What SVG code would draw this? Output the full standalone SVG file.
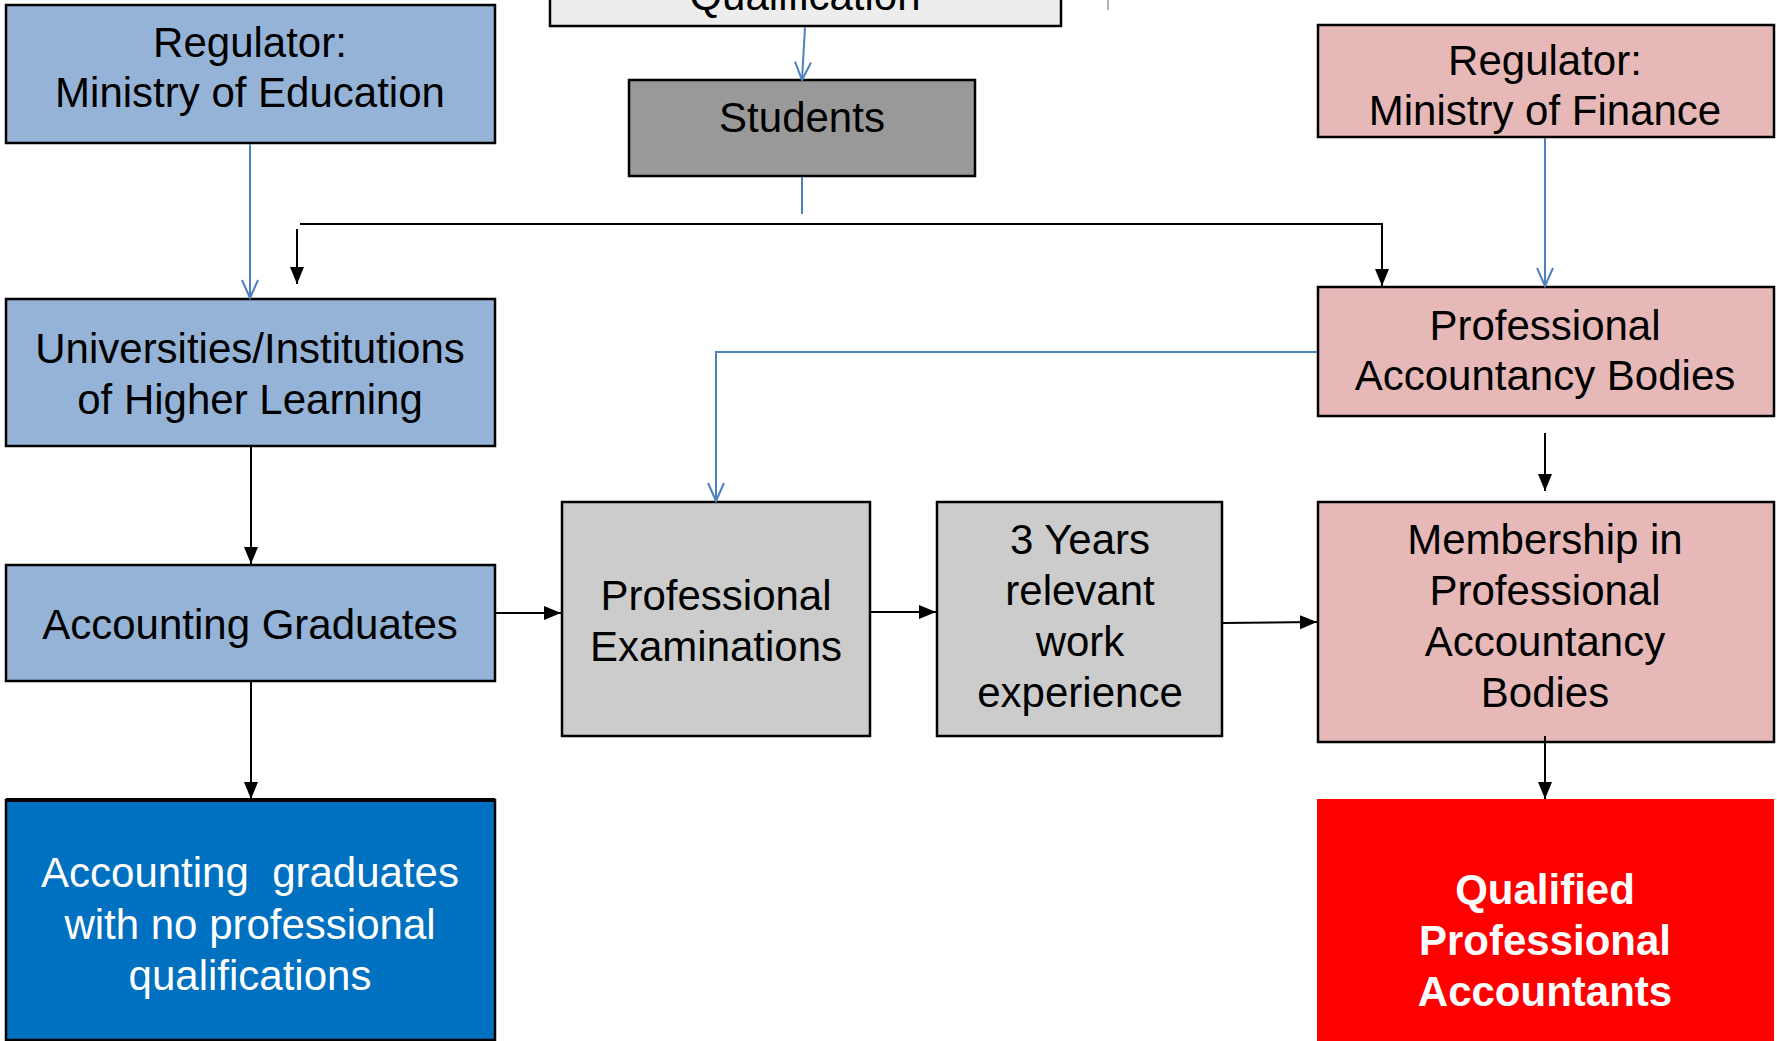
<svg xmlns="http://www.w3.org/2000/svg" width="1777" height="1041" viewBox="0 0 1777 1041">
<defs>
<style>
.t{font-family:"Liberation Sans",Arial,sans-serif;font-size:42px;fill:#000;text-anchor:middle}
.w{fill:#fff}
.b{font-weight:bold}
.box{stroke:#000;stroke-width:2.5}
.bl{fill:none;stroke:#4F81BD;stroke-width:2}
.k{fill:none;stroke:#000;stroke-width:2}
</style>
<marker id="ab" markerWidth="18" markerHeight="16" refX="17" refY="7" orient="auto" markerUnits="userSpaceOnUse"><path d="M0,0 L17,7 L0,14 z" fill="#000"/></marker>
<marker id="ob" markerWidth="22" markerHeight="20" refX="19" refY="9" orient="auto" markerUnits="userSpaceOnUse"><path d="M1,1 L19,9 L1,17" fill="none" stroke="#4F81BD" stroke-width="2"/></marker>
</defs>
<rect width="1777" height="1041" fill="#fff"/>
<g id="qualification">
<rect class="box" x="550" y="-60" width="511" height="86" fill="#EDEDED"/>
<text class="t" x="805" y="10">Qualification</text>
</g>
<line x1="1108" y1="0" x2="1108" y2="10" stroke="#666" stroke-width="1"/>
<g id="reg-edu">
<rect class="box" x="6" y="5" width="489" height="138" fill="#95B3D7"/>
<text class="t" x="250" y="57">Regulator:</text>
<text class="t" x="250" y="107">Ministry of Education</text>
</g>
<g id="students">
<rect class="box" x="629" y="80" width="346" height="96" fill="#999999"/>
<text class="t" x="802" y="132">Students</text>
</g>
<g id="reg-fin">
<rect class="box" x="1318" y="25" width="456" height="112" fill="#E6B9B8"/>
<text class="t" x="1545" y="75">Regulator:</text>
<text class="t" x="1545" y="125">Ministry of Finance</text>
</g>
<g id="universities">
<rect class="box" x="6" y="299" width="489" height="147" fill="#95B3D7"/>
<text class="t" x="250" y="363">Universities/Institutions</text>
<text class="t" x="250" y="414">of Higher Learning</text>
</g>
<g id="pab">
<rect class="box" x="1318" y="287" width="456" height="129" fill="#E6B9B8"/>
<text class="t" x="1545" y="340">Professional</text>
<text class="t" x="1545" y="390">Accountancy Bodies</text>
</g>
<g id="graduates">
<rect class="box" x="6" y="565" width="489" height="116" fill="#95B3D7"/>
<text class="t" x="250" y="639">Accounting Graduates</text>
</g>
<g id="exams">
<rect class="box" x="562" y="502" width="308" height="234" fill="#CCCCCC"/>
<text class="t" x="716" y="610">Professional</text>
<text class="t" x="716" y="661">Examinations</text>
</g>
<g id="experience">
<rect class="box" x="937" y="502" width="285" height="234" fill="#CCCCCC"/>
<text class="t" x="1080" y="554">3 Years</text>
<text class="t" x="1080" y="605">relevant</text>
<text class="t" x="1080" y="656">work</text>
<text class="t" x="1080" y="707">experience</text>
</g>
<g id="membership">
<rect class="box" x="1318" y="502" width="456" height="240" fill="#E6B9B8"/>
<text class="t" x="1545" y="554">Membership in</text>
<text class="t" x="1545" y="605">Professional</text>
<text class="t" x="1545" y="656">Accountancy</text>
<text class="t" x="1545" y="707">Bodies</text>
</g>
<g id="no-qual">
<rect class="box" x="6" y="800" width="489" height="240" fill="#0070C0"/>
<line x1="6" y1="800" x2="495" y2="800" stroke="#000" stroke-width="4"/>
<text class="t w" x="250" y="887" xml:space="preserve">Accounting  graduates</text>
<text class="t w" x="250" y="939">with no professional</text>
<text class="t w" x="250" y="990">qualifications</text>
</g>
<g id="qualified">
<rect x="1317" y="799" width="457" height="242" fill="#FF0000"/>
<text class="t w b" x="1545" y="904">Qualified</text>
<text class="t w b" x="1545" y="955">Professional</text>
<text class="t w b" x="1545" y="1006">Accountants</text>
</g>
<g id="connectors">
<line class="bl" x1="805" y1="27" x2="802" y2="80" marker-end="url(#ob)"/>
<line class="bl" x1="802" y1="177" x2="802" y2="214"/>
<path class="k" d="M300,224 H1382 V286" marker-end="url(#ab)"/>
<line class="k" x1="297" y1="229" x2="297" y2="284" marker-end="url(#ab)"/>
<line class="bl" x1="250" y1="144" x2="250" y2="298" marker-end="url(#ob)"/>
<line class="bl" x1="1545" y1="138" x2="1545" y2="286" marker-end="url(#ob)"/>
<path class="bl" d="M1317,352 H716 V501" marker-end="url(#ob)"/>
<line class="k" x1="251" y1="447" x2="251" y2="564" marker-end="url(#ab)"/>
<line class="k" x1="251" y1="682" x2="251" y2="799" marker-end="url(#ab)"/>
<line class="k" x1="496" y1="613" x2="561" y2="613" marker-end="url(#ab)"/>
<line class="k" x1="871" y1="612" x2="936" y2="612" marker-end="url(#ab)"/>
<line class="k" x1="1223" y1="623" x2="1317" y2="622" marker-end="url(#ab)"/>
<line class="k" x1="1545" y1="433" x2="1545" y2="491" marker-end="url(#ab)"/>
<line class="k" x1="1545" y1="736" x2="1545" y2="799" marker-end="url(#ab)"/>
</g>
</svg>
